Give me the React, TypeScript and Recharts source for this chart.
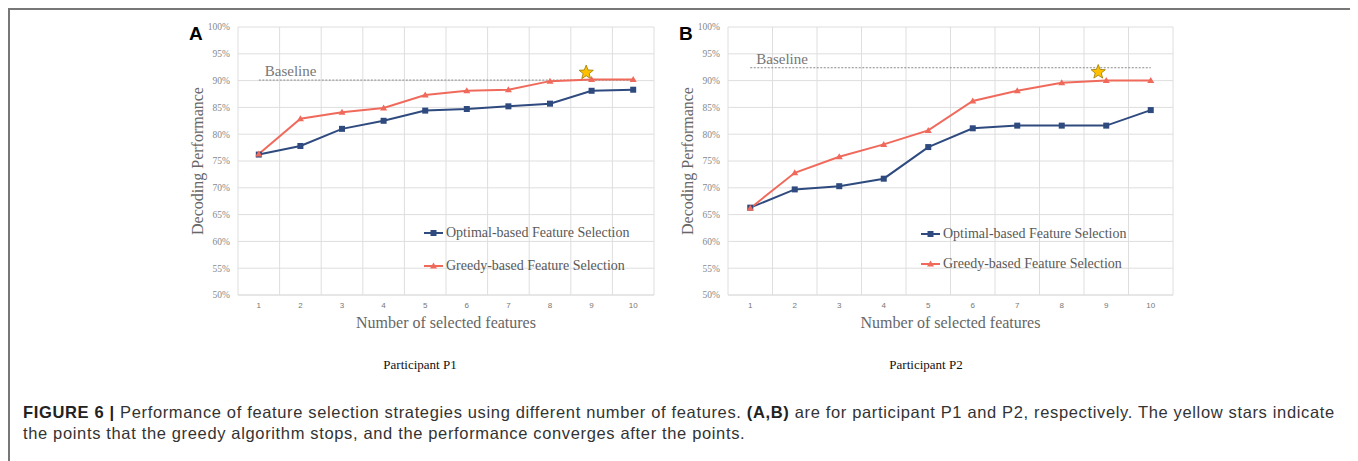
import {
  LineChart,
  Line,
  XAxis,
  YAxis,
  CartesianGrid,
  Legend,
  ReferenceLine,
  ReferenceDot,
} from "recharts";

// x values: number of selected features
const features = [1, 2, 3, 4, 5, 6, 7, 8, 9, 10];
const yTicks = [50, 55, 60, 65, 70, 75, 80, 85, 90, 95, 100];
const gridBounds = [0.5, 1.5, 2.5, 3.5, 4.5, 5.5, 6.5, 7.5, 8.5, 9.5, 10.5];
const seriesOrder = ["optimal", "greedy"];

// participant P1
const optimalP1 = [76.2, 77.8, 81.0, 82.5, 84.4, 84.7, 85.2, 85.7, 88.1, 88.3];
const greedyP1 = [76.3, 82.9, 84.1, 84.9, 87.3, 88.1, 88.3, 89.9, 90.2, 90.2];
const baselineP1 = 90.1;
const starP1 = { x: 8.87, y: 91.5 };

// participant P2
const optimalP2 = [66.3, 69.7, 70.3, 71.7, 77.6, 81.1, 81.6, 81.6, 81.6, 84.5];
const greedyP2 = [66.2, 72.8, 75.8, 78.1, 80.7, 86.2, 88.1, 89.6, 90.0, 90.0];
const baselineP2 = 92.4;
const starP2 = { x: 8.82, y: 91.6 };

const BLUE = "#2E4A7E";
const RED = "#F06A5C";
const GRID = "#dedede";
const SERIF = "'Liberation Serif', 'Times New Roman', serif";
const SANS = "'Liberation Sans', Arial, sans-serif";

const buildRows = (optimal: number[], greedy: number[]) =>
  features.map((n, i) => ({ n, optimal: optimal[i], greedy: greedy[i] }));

const SquareDot = (p: any) => (
  <rect key={`sq-${p.index}`} x={p.cx - 3} y={p.cy - 3} width={6} height={6} fill={BLUE} />
);

const TriangleDot = (p: any) => (
  <polygon
    key={`tr-${p.index}`}
    points={`${p.cx},${p.cy - 3.5} ${p.cx + 3.5},${p.cy + 2.5} ${p.cx - 3.5},${p.cy + 2.5}`}
    fill={RED}
  />
);

const StarShape = (p: any) => {
  const pts: string[] = [];
  for (let k = 0; k < 10; k++) {
    const r = k % 2 === 0 ? 7.5 : 3.2;
    const a = -Math.PI / 2 + (k * Math.PI) / 5;
    pts.push(`${p.cx + r * Math.cos(a)},${p.cy + r * Math.sin(a)}`);
  }
  return <polygon points={pts.join(" ")} fill="#FFC000" stroke="#9C7A00" strokeWidth={0.8} />;
};

const YTitle = ({ viewBox }: any) => {
  const cx = viewBox.x + 27;
  const cy = viewBox.y + viewBox.height / 2;
  return (
    <text
      x={cx}
      y={cy}
      transform={`rotate(-90 ${cx} ${cy})`}
      textAnchor="middle"
      dominantBaseline="central"
      fontFamily={SERIF}
      fontSize={16}
      fill="#666"
    >
      Decoding Performance
    </text>
  );
};

const XTitle = ({ viewBox }: any) => (
  <text
    x={viewBox.x + viewBox.width / 2}
    y={viewBox.y + 27}
    textAnchor="middle"
    dominantBaseline="central"
    fontFamily={SERIF}
    fontSize={16}
    fill="#666"
  >
    Number of selected features
  </text>
);

const BaselineLabel = ({ viewBox }: any) => (
  <text x={viewBox.x + 6} y={viewBox.y - 4} fontFamily={SERIF} fontSize={15} fill="#777">
    Baseline
  </text>
);

const LegendRows = ({ payload, gap }: any) => {
  const items = [...(payload || [])].sort(
    (a: any, b: any) => seriesOrder.indexOf(a.dataKey) - seriesOrder.indexOf(b.dataKey),
  );
  return (
    <div style={{ fontFamily: SERIF, fontSize: 14, color: "#595959" }}>
      {items.map((item: any, i: number) => (
        <div key={i} style={{ display: "flex", alignItems: "center", height: gap, whiteSpace: "nowrap" }}>
          <svg width={20} height={10} style={{ marginRight: 2 }}>
            <line x1={0} y1={5} x2={19} y2={5} stroke={item.color} strokeWidth={2} />
            {item.dataKey === "optimal" ? (
              <rect x={6.5} y={2} width={6} height={6} fill={item.color} />
            ) : (
              <polygon points="9.5,1.5 13,7.5 6,7.5" fill={item.color} />
            )}
          </svg>
          {item.value}
        </div>
      ))}
    </div>
  );
};

interface PanelProps {
  left: number;
  width: number;
  letter: string;
  optimal: number[];
  greedy: number[];
  baseline: number;
  star: { x: number; y: number };
  legendLeft: number;
  legendTop: number;
  legendGap: number;
}

function Panel({ left, width, letter, optimal, greedy, baseline, star, legendLeft, legendTop, legendGap }: PanelProps) {
  const rows = buildRows(optimal, greedy);
  return (
    <div style={{ position: "absolute", left, top: 4, width, height: 330 }}>
      <div
        style={{
          position: "absolute",
          left: 19,
          top: 12,
          fontFamily: SANS,
          fontWeight: 900,
          fontSize: 19,
          lineHeight: "19px",
          color: "#000",
          zIndex: 2,
        }}
      >
        {letter}
      </div>
      <LineChart width={width} height={330} data={rows} margin={{ top: 15, right: 16, left: 0, bottom: 17 }}>
        <CartesianGrid
          stroke={GRID}
          verticalCoordinatesGenerator={({ xAxis, offset }: any) =>
            gridBounds.map((b) =>
              xAxis && typeof xAxis.scale === "function"
                ? xAxis.scale(b)
                : offset.left + ((b - 0.5) / 10) * offset.width,
            )
          }
        />
        <XAxis
          dataKey="n"
          type="number"
          domain={[0.5, 10.5]}
          ticks={features}
          height={30}
          tickLine={false}
          tickMargin={1}
          axisLine={{ stroke: GRID }}
          tick={{ fontSize: 8, fill: "#777", fontFamily: SANS }}
          label={<XTitle />}
        />
        <YAxis
          domain={[50, 100]}
          ticks={yTicks}
          width={68}
          axisLine={false}
          tickLine={false}
          tickFormatter={(v: number) => `${v}%`}
          tick={{ fontSize: 9.5, fill: "#888", fontFamily: SERIF }}
          label={<YTitle />}
        />
        <ReferenceLine
          segment={[
            { x: features[0], y: baseline },
            { x: features[features.length - 1], y: baseline },
          ]}
          stroke="#8a8a8a"
          strokeDasharray="2 1.5"
          strokeWidth={1}
          label={<BaselineLabel />}
        />
        <Line
          dataKey="optimal"
          name="Optimal-based Feature Selection"
          stroke={BLUE}
          strokeWidth={2}
          dot={SquareDot}
          isAnimationActive={false}
        />
        <Line
          dataKey="greedy"
          name="Greedy-based Feature Selection"
          stroke={RED}
          strokeWidth={2}
          dot={TriangleDot}
          isAnimationActive={false}
        />
        <ReferenceDot x={star.x} y={star.y} r={7} shape={StarShape} />
        <Legend
          layout="vertical"
          align="center"
          verticalAlign="middle"
          content={(props: any) => <LegendRows {...props} gap={legendGap} />}
          wrapperStyle={{ position: "absolute", left: legendLeft, top: legendTop, width: "auto" }}
        />
      </LineChart>
    </div>
  );
}

const captionText = { fontFamily: SANS, fontSize: 16.5, letterSpacing: 0.65, color: "#333" };

export default function App() {
  return (
    <div style={{ position: "relative", width: 1350, height: 453, background: "#fff", overflow: "hidden" }}>
      <div
        style={{
          position: "absolute",
          left: 0,
          top: 0,
          width: 1345,
          height: 460,
          borderLeft: "2px solid #777",
          borderTop: "2px solid #777",
          borderRight: "2px solid #777",
        }}
      />
      <Panel
        left={162}
        width={500}
        letter="A"
        optimal={optimalP1}
        greedy={greedyP1}
        baseline={baselineP1}
        star={starP1}
        legendLeft={254}
        legendTop={204}
        legendGap={33}
      />
      <Panel
        left={652}
        width={529}
        letter="B"
        optimal={optimalP2}
        greedy={greedyP2}
        baseline={baselineP2}
        star={starP2}
        legendLeft={261}
        legendTop={207}
        legendGap={30}
      />
      <div style={{ position: "absolute", left: 332, top: 349, width: 160, textAlign: "center", fontFamily: SERIF, fontSize: 13, color: "#111" }}>
        Participant P1
      </div>
      <div style={{ position: "absolute", left: 838, top: 349, width: 160, textAlign: "center", fontFamily: SERIF, fontSize: 13, color: "#111" }}>
        Participant P2
      </div>
      <div style={{ position: "absolute", left: 15, top: 394, ...captionText, lineHeight: "21px", whiteSpace: "nowrap" }}>
        <div>
          <b style={{ color: "#222" }}>FIGURE 6 |</b> Performance of feature selection strategies using different number of
          features. <b style={{ color: "#222" }}>(A,B)</b> are for participant P1 and P2, respectively. The yellow stars indicate
        </div>
        <div>the points that the greedy algorithm stops, and the performance converges after the points.</div>
      </div>
    </div>
  );
}
